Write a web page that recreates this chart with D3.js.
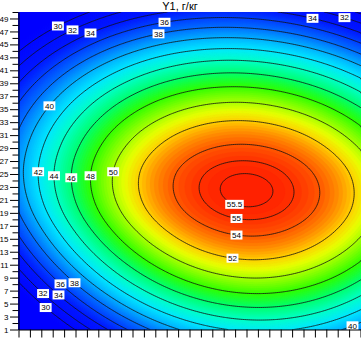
<!DOCTYPE html>
<html>
<head>
<meta charset="utf-8">
<script src="https://cdn.jsdelivr.net/npm/d3@7"></script>
<style>
  body { margin: 0; background: #fff; }
  svg { display: block; font-family: "Liberation Sans", Arial, sans-serif; }
</style>
</head>
<body>
<svg width="361" height="338"></svg>
<script>
// grid nodes: x axis has no labels on the original, y runs 1..50
const xNodes = [0, 5, 10, 15, 20, 25, 30];
const yNodes = [0, 5, 10, 15, 20, 25, 30, 35, 40, 45, 50];

// Y1, g/kg at the grid nodes (one row per y node, bottom to top)
const y1Grid = [
  [20.02, 28.81, 35.26, 39.37, 41.15, 40.59, 37.69],
  [26.38, 34.84, 41.02, 44.91, 46.53, 45.86, 42.91],
  [31.61, 39.74, 45.64, 49.32, 50.77, 49.99, 46.99],
  [35.63, 43.43, 49.06, 52.51, 53.80, 52.92, 49.87],
  [38.32, 45.79, 51.14, 54.38, 55.51, 54.52, 51.41],
  [39.31, 46.45, 51.52, 54.54, 55.51, 54.41, 51.25],
  [38.59, 45.40, 50.20, 53.00, 53.80, 52.60, 49.39],
  [36.55, 43.02, 47.55, 50.13, 50.77, 49.46, 46.20],
  [33.29, 39.44, 43.69, 46.06, 46.53, 45.11, 41.80],
  [28.90, 34.72, 38.70, 40.84, 41.15, 39.62, 36.26],
  [23.42, 28.90, 32.61, 34.53, 34.68, 33.05, 29.63]
];

const contourLevels = [30, 32, 34, 36, 38, 40, 42, 44, 46, 48, 50, 52, 54, 55, 55.5];
const yTicks = d3.range(1, 51);
const yTickLabels = d3.range(1, 50, 2);
const xTicks = d3.range(0, 31);

// contour labels: level, and roughly where it sits (data units)
const labelLevels = [30, 32, 34, 36, 38, 34, 32, 40, 42, 44, 46, 48, 50, 55.5, 55, 54, 52, 30, 32, 34, 36, 38, 40];
const labelU = [3.55, 4.87, 6.27, 12.7, 12.3, 25.8, 28.55, 2.5, 1.8, 3.2, 4.7, 6.27, 8.2, 19.0, 19.1, 19.1, 18.8, 2.4, 2.24, 3.55, 3.73, 4.96, 29.2];
const labelV = [47.5, 47.1, 46.9, 48.9, 47.2, 49.1, 49.1, 35.9, 25.4, 24.6, 24.3, 24.8, 25.3, 20.6, 18.3, 15.8, 12.1, 4.55, 6.56, 6.56, 8.1, 8.26, 1.93];

const svg = d3.select('svg');
const x = d3.scaleLinear().domain([0, 30]).range([18.5, 360.5]);
const y = d3.scaleLinear().domain([1, 50]).range([329.5, 12]);

// rainbow shading, blue (low) to red (high)
const color = d3.scaleLinear()
  .domain([28, 34, 36, 38, 40, 42, 44, 46, 48, 50, 51, 52, 53, 54, 55, 56])
  .range(['#0000ff', '#0018ff', '#0040ff', '#0070ff', '#00b0ff', '#00e8ff', '#00ffc8', '#00ff70',
          '#30ff00', '#a8ff00', '#e8ff00', '#ffd000', '#ff9000', '#ff5800', '#ff3000', '#ff1800'])
  .clamp(true);

// smooth surface through the grid nodes (catmull-rom, both directions)
function cr(p0, p1, p2, p3, t) {
  return 0.5 * (2 * p1 + (p2 - p0) * t + (2 * p0 - 5 * p1 + 4 * p2 - p3) * t * t
    + (3 * p1 - p0 - 3 * p2 + p3) * t * t * t);
}
function node(arr, k) {
  const n = arr.length;
  if (k < 0) return 3 * arr[0] - 3 * arr[1] + arr[2];
  if (k >= n) return 3 * arr[n - 1] - 3 * arr[n - 2] + arr[n - 3];
  return arr[k];
}
function along(arr, nodes, pos) {
  const step = nodes[1] - nodes[0];
  const f = (pos - nodes[0]) / step;
  const k = Math.max(0, Math.min(Math.floor(f), arr.length - 2));
  return cr(node(arr, k - 1), node(arr, k), node(arr, k + 1), node(arr, k + 2), f - k);
}

const nx = 172, ny = 160;
const us = d3.range(nx).map(i => 30 * i / (nx - 1));
const vs = d3.range(ny).map(j => 1 + 49 * j / (ny - 1));
const values = new Array(nx * ny);
us.forEach((u, i) => {
  const col = y1Grid.map(row => along(row, xNodes, u));
  vs.forEach((v, j) => { values[j * nx + i] = along(col, yNodes, v); });
});

const toPx = d3.geoTransform({
  point(px, py) {
    this.stream.point(x(30 * (px - 0.5) / (nx - 1)), y(1 + 49 * (py - 0.5) / (ny - 1)));
  }
});
const path = d3.geoPath(toPx);

svg.append('clipPath').attr('id', 'plot')
  .append('rect').attr('x', 18.5).attr('y', 12).attr('width', 343).attr('height', 317.5);

const plot = svg.append('g').attr('clip-path', 'url(#plot)');

// filled bands
const step = 0.25;
const fillLevels = d3.range(18, 56.2, step);
plot.append('rect').attr('x', 18).attr('y', 11).attr('width', 344).attr('height', 320)
  .attr('fill', color(18));
plot.append('g').selectAll('path')
  .data(d3.contours().size([nx, ny]).thresholds(fillLevels)(values))
  .join('path')
  .attr('d', path)
  .attr('fill', d => color(d.value + step / 2))
  .attr('stroke', d => color(d.value + step / 2))
  .attr('stroke-width', 0.3);

// contour lines
const lines = d3.contours().size([nx, ny]).thresholds(contourLevels)(values);
plot.append('g').selectAll('path')
  .data(lines)
  .join('path')
  .attr('d', path)
  .attr('fill', 'none')
  .attr('stroke', '#111')
  .attr('stroke-width', 0.8);

// labels on the lines
const labelG = svg.append('g').attr('font-size', 8);
labelLevels.forEach((lv, k) => {
  const c = lines.find(d => d.value === lv);
  const tx = x(labelU[k]), ty = y(labelV[k]);
  let best = [tx, ty], bd = Infinity;
  c.coordinates.forEach(poly => poly.forEach(ring => ring.forEach(p => {
    const px = x(30 * (p[0] - 0.5) / (nx - 1)), py = y(1 + 49 * (p[1] - 0.5) / (ny - 1));
    const dd = (px - tx) ** 2 + (py - ty) ** 2;
    if (dd < bd) { bd = dd; best = [px, py]; }
  })));
  const g = labelG.append('g').attr('transform', `translate(${best[0]},${best[1]})`);
  const rect = g.append('rect').attr('fill', '#fff');
  const t = g.append('text').attr('text-anchor', 'middle').attr('dy', '0.35em')
    .attr('fill', '#000').text(String(lv));
  const w = t.node().getComputedTextLength() + 3;
  rect.attr('x', -w / 2).attr('y', -4.5).attr('width', w).attr('height', 9);
});

// axes
const yAxis = svg.append('g').attr('transform', 'translate(18.5,0)')
  .call(d3.axisLeft(y).tickValues(yTicks).tickSize(6).tickSizeOuter(0)
    .tickFormat(d => yTickLabels.includes(d) ? d : ''));
yAxis.selectAll('.tick').filter(d => yTickLabels.includes(d)).select('line').attr('x2', -8.5);
yAxis.selectAll('.tick text').attr('x', -10).attr('font-size', 8).attr('font-family', '"Liberation Sans", Arial, sans-serif');

svg.append('g').attr('transform', 'translate(0,329.5)')
  .call(d3.axisBottom(x).tickValues(xTicks).tickSize(8).tickSizeOuter(0).tickFormat(''));

// title
svg.append('text').attr('x', 180).attr('y', 9.5).attr('text-anchor', 'middle')
  .attr('font-size', 11).attr('fill', '#000').text('Y1, г/кг');
</script>
</body>
</html>
